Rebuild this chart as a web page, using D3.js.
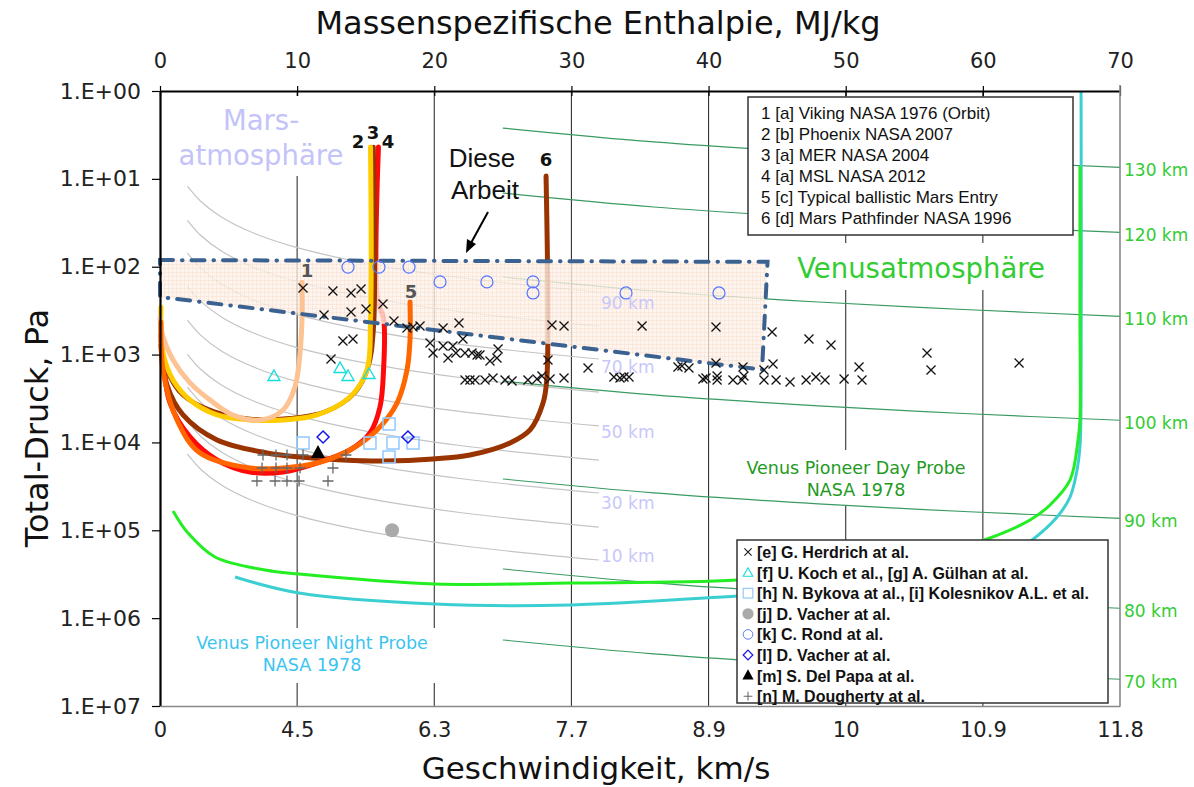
<!DOCTYPE html>
<html>
<head>
<meta charset="utf-8">
<script src="https://cdn.jsdelivr.net/npm/d3@7"></script>
<style>
  body { margin: 0; background: #fff; }
</style>
</head>
<body>
<div id="chart"></div>
<script>
// ---- axes ----
var enthalpyTicks = [0, 10, 20, 30, 40, 50, 60, 70];
var velocityLabels = ["0", "4.5", "6.3", "7.7", "8.9", "10", "10.9", "11.8"];
var pressureTicks = [1, 10, 100, 1e3, 1e4, 1e5, 1e6, 1e7];
var pressureLabels = ["1.E+00", "1.E+01", "1.E+02", "1.E+03", "1.E+04", "1.E+05", "1.E+06", "1.E+07"];

// ---- Mars altitude isolines (grey), pressure at enthalpy samples ----
var marsH = [2, 3, 4.5, 7, 10, 15, 22, 32];
var marsAltitudes = ["90 km", "80 km", "70 km", "60 km", "50 km", "40 km", "30 km", "20 km", "10 km"];
var marsIso = [
  [12.1, 18.2, 27.3, 42.5, 60.7, 91, 134, 194],
  [29.6, 44.4, 66.6, 104, 148, 222, 326, 474],
  [70.2, 105, 158, 246, 351, 527, 772, 1123],
  [167, 250, 375, 584, 834, 1251, 1835, 2669],
  [406, 609, 914, 1421, 2030, 3045, 4466, 6496],
  [992, 1488, 2232, 3472, 4960, 7440, 10910, 15870],
  [2354, 3531, 5297, 8239, 11770, 17660, 25890, 37660],
  [5740, 8610, 12920, 20090, 28700, 43050, 63140, 91840],
  [13630, 20440, 30660, 47700, 68140, 102200, 149900, 218000]
];

// ---- Venus altitude isolines (green) ----
var venusH = [25, 36, 48, 59, 70];
var venusAltitudes = ["130 km", "120 km", "110 km", "100 km", "90 km", "80 km", "70 km"];
var venusIso = [
  [2.64, 3.80, 5.06, 6.22, 7.39],
  [14.5, 20.9, 27.8, 34.2, 40.6],
  [131, 189, 252, 309, 367],
  [2000, 2876, 3835, 4714, 5593],
  [26080, 37550, 50060, 61540, 73010],
  [275800, 397100, 529400, 650800, 772100],
  [1773000, 2552000, 3403000, 4183000, 4963000]
];

// ---- entry trajectories [enthalpy MJ/kg, total pressure Pa] ----
var viking = [[0, 384], [0.22, 631], [0.95, 1150], [2.19, 2100], [3.65, 3290], [5.32, 4870], [7.29, 5550], [8.97, 4270], [9.84, 2340], [10.21, 960], [10.35, 404], [10.35, 150]];
var phoenix = [[0.07, 287], [0.22, 960], [0.95, 1945], [2.19, 3290], [4.16, 4870], [6.56, 5550], [8.97, 5550], [11.45, 4870], [13.85, 3040], [15.09, 1500], [15.35, 404], [15.35, 4.34]];
var mer = [[0.07, 700], [0.51, 1500], [1.68, 2900], [4.01, 4500], [6.56, 5400], [9.48, 5300], [12.03, 4500], [14.22, 2700], [15.17, 1400], [15.57, 525], [15.57, 4.34]];
var msl = [[0.07, 598], [0.22, 1150], [0.73, 3560], [2.19, 8670], [4.16, 15850], [6.56, 21700], [8.97, 21700], [11.45, 17140], [13.85, 12190], [15.31, 7810], [16.04, 3950], [16.3, 1500], [16.3, 384], [15.86, 239], [15.93, 4.34]];
var ballistic = [[0.07, 426], [0.22, 1500], [1.24, 5550], [2.92, 13190], [6.56, 19540], [8.97, 19540], [11.45, 17140], [13.85, 12190], [15.82, 7210], [17.28, 3560], [18.01, 1500], [18.23, 682], [18.23, 252]];
var pathfinder = [[0.07, 780], [0.51, 2220], [1.68, 4870], [4.16, 9380], [7.8, 13190], [10.21, 14650], [13.34, 15850], [16.26, 16270], [19.91, 15440], [22.6, 13900], [25.52, 10150], [26.98, 7210], [27.93, 3560], [28.2, 1950], [28.15, 9.3]];

var venusDay = [[0.95, 60260], [2.04, 107400], [4.01, 201400], [7.66, 283200], [10.14, 314300], [20.05, 408300], [29.97, 398000], [42.15, 368000], [53.96, 248300], [60.52, 122400], [63.44, 76340], [64.9, 51510], [66.36, 26760], [66.94, 9381], [67.08, 5554], [67.08, 404], [67.08, 7.14]];
var venusNight = [[5.47, 340400], [10.14, 517200], [20.05, 690600], [29.97, 708500], [42.15, 559600], [53.96, 419600], [61.25, 217800], [63.59, 128900], [65.41, 70560], [66.36, 41800], [66.87, 20590], [67.08, 11270], [67.16, 3289], [67.16, 1]];

// "Diese Arbeit" region corners
var thisWork = [[0, 84], [44.3, 88], [43.9, 1480], [0, 221]];

// ---- ground test facilities ----
var herdrich = [[10.43, 175], [12.61, 189], [13.93, 199], [14.66, 179], [11.96, 354], [13.93, 328], [15.02, 303], [16.26, 266],
  [17.06, 415], [18.45, 486], [18.96, 473], [20.64, 498], [21.8, 437], [13.34, 701], [14.07, 665], [12.47, 1123],
  [18.01, 498], [19.69, 738], [19.91, 960], [20.64, 799], [21.0, 1094], [21.36, 799], [21.58, 960], [22.09, 665],
  [22.24, 960], [22.75, 960], [23.12, 1011], [22.24, 1946], [22.6, 1946], [22.97, 1946], [23.33, 1011], [24.65, 864],
  [24.06, 1183], [24.57, 1094], [23.7, 1946], [24.28, 1848], [25.16, 1946], [25.67, 1998], [26.83, 1946], [27.49, 1897],
  [27.85, 1753], [28.44, 1897], [29.46, 1848], [28.29, 1153], [28.58, 461], [29.46, 473], [35.15, 473], [40.54, 486],
  [31.21, 1421], [33.1, 1799], [33.54, 1848], [33.83, 1799], [34.2, 1799], [37.77, 1385], [38.06, 1349], [38.57, 1421],
  [39.59, 1897], [39.81, 1848], [40.62, 1753], [40.62, 1946], [40.54, 1247], [41.78, 1946], [42.44, 1946], [42.58, 1753],
  [42.51, 1385], [44.04, 1498], [44.04, 1946], [44.92, 1946], [45.94, 2052], [44.7, 1280], [44.63, 553], [47.32, 665],
  [48.93, 778], [47.11, 1946], [47.83, 1799], [48.49, 1946], [49.88, 1897], [50.97, 1385], [51.19, 1946], [55.93, 960],
  [56.22, 1498], [62.64, 1247]];
var kochGuelhan = [[8.31, 1753], [13.13, 1421], [13.71, 1753], [15.24, 1663]];
var bykovaKolesnikov = [[10.43, 10150], [16.7, 6170], [15.31, 10150], [16.99, 10150], [16.7, 14650], [18.45, 10150]];
var vacherDot = [[16.92, 100000]];
var rond = [[13.71, 101], [15.97, 101], [18.16, 101], [20.42, 149], [23.84, 149], [27.2, 149], [27.2, 199], [33.98, 199], [40.76, 199]];
var vacherDiamond = [[11.89, 8670], [18.08, 8670]];
var delPapa = [[11.52, 13190]];
var dougherty = [[7.51, 13900], [8.46, 13900], [9.26, 13900], [10.43, 13900], [13.56, 13900],
  [7.44, 19540], [8.46, 19540], [9.26, 19540], [10.21, 19540], [12.61, 19540],
  [7.07, 27480], [8.39, 27480], [9.26, 27480], [10.14, 27480], [12.25, 27480]];

var missionLegend = ["1 [a] Viking NASA 1976 (Orbit)", "2 [b] Phoenix NASA 2007", "3 [a] MER NASA 2004",
  "4 [a] MSL NASA 2012", "5 [c] Typical ballistic Mars Entry", "6 [d] Mars Pathfinder NASA 1996"];
var refSymbols = ["cross", "triangle", "square", "dot", "circle", "diamond", "filledTriangle", "plus"];
var refLabels = ["[e] G. Herdrich at al.", "[f] U. Koch et al., [g] A. Gülhan at al.",
  "[h] N. Bykova at al., [i] Kolesnikov A.L. et al.", "[j] D. Vacher at al.", "[k] C. Rond at al.",
  "[l] D. Vacher at al.", "[m] S. Del Papa at al.", "[n] M. Dougherty at al."];

// ---------------------------------------------------------------
var width = 1194, height = 787;
var plotLeft = 160, plotRight = 1120, plotTop = 91, plotBottom = 706;

var svg = d3.select("#chart").append("svg")
  .attr("width", width).attr("height", height)
  .style("font-family", "'DejaVu Sans', Verdana, sans-serif");

var x = d3.scaleLinear().domain([0, 70]).range([plotLeft, plotRight]);
var y = d3.scaleLog().domain([1, 1e7]).range([plotTop, plotBottom]);

var defs = svg.append("defs");
var pat = defs.append("pattern").attr("id", "grid").attr("width", 4).attr("height", 4)
  .attr("patternUnits", "userSpaceOnUse");
pat.append("rect").attr("width", 4).attr("height", 4).attr("fill", "#fef3ec");
pat.append("path").attr("d", "M0,0.5H4M0.5,0V4").attr("stroke", "#f8dccb").attr("stroke-width", 0.7);

var line = d3.line().x(d => x(d[0])).y(d => y(d[1])).curve(d3.curveCatmullRom.alpha(0.5));

// vertical grid
svg.append("g").selectAll("line")
  .data(enthalpyTicks.slice(1, -1))
  .enter().append("line")
  .attr("x1", d => x(d)).attr("x2", d => x(d))
  .attr("y1", plotTop).attr("y2", plotBottom)
  .attr("stroke", "#333").attr("stroke-width", 1.1);

// white label backgrounds
var boxes = [[178, 96, 170, 80], [788, 243, 272, 47], [735, 450, 240, 55], [188, 628, 250, 55]];
svg.append("g").selectAll("rect").data(boxes).enter().append("rect")
  .attr("x", d => d[0]).attr("y", d => d[1]).attr("width", d => d[2]).attr("height", d => d[3])
  .attr("fill", "#fff");

// Mars isolines
svg.append("g").selectAll("path").data(marsIso).enter().append("path")
  .attr("d", d => line(d.map((p, i) => [marsH[i], p])))
  .attr("fill", "none").attr("stroke", "#c4c4c4").attr("stroke-width", 1.2);

// Venus isolines
svg.append("g").selectAll("path").data(venusIso).enter().append("path")
  .attr("d", d => line(d.map((p, i) => [venusH[i], p])))
  .attr("fill", "none").attr("stroke", "#3a9a62").attr("stroke-width", 1.2);

// Venus probes
svg.append("path").attr("d", line(venusNight)).attr("fill", "none")
  .attr("stroke", "#3ccfd2").attr("stroke-width", 3);
svg.append("path").attr("d", line(venusDay)).attr("fill", "none")
  .attr("stroke", "#22ee22").attr("stroke-width", 3);

function traj(data, color, w) {
  svg.append("path").attr("d", line(data)).attr("fill", "none")
    .attr("stroke", color).attr("stroke-width", w || 5)
    .attr("stroke-linecap", "round").attr("stroke-linejoin", "round");
}

traj(pathfinder, "#993300");
traj(msl, "#ff0a0a");

// region of this work
var regionLine = d3.line().x(d => x(d[0])).y(d => y(d[1]));
svg.append("path").attr("d", regionLine(thisWork) + "Z")
  .attr("fill", "url(#grid)").attr("opacity", 0.8);

traj(mer, "#993300", 4.5);
traj(phoenix, "#ffcc00");
traj(viking, "#fdc393");
traj(ballistic, "#ff6600");

svg.append("path").attr("d", regionLine(thisWork) + "Z")
  .attr("fill", "none").attr("stroke", "#3a6190").attr("stroke-width", 4)
  .attr("stroke-dasharray", "13,9,0.5,9").attr("stroke-linecap", "round");

// marker shapes
function symbol(g, type, cx, cy, k) {
  k = k || 1;
  var s = g.append("g").attr("transform", "translate(" + cx + "," + cy + ") scale(" + k + ")");
  if (type === "cross") {
    s.append("path").attr("d", "M-4.5,-4.5L4.5,4.5M-4.5,4.5L4.5,-4.5")
      .attr("stroke", "#111").attr("stroke-width", 1.3).attr("fill", "none");
  } else if (type === "triangle") {
    s.append("path").attr("d", "M0,-6L6,4.5L-6,4.5Z")
      .attr("stroke", "#19dede").attr("stroke-width", 1.4).attr("fill", "none");
  } else if (type === "square") {
    s.append("rect").attr("x", -6).attr("y", -6).attr("width", 12).attr("height", 12)
      .attr("stroke", "#99ccff").attr("stroke-width", 1.6).attr("fill", "none");
  } else if (type === "dot") {
    s.append("circle").attr("r", 7).attr("fill", "#aaaaaa");
  } else if (type === "circle") {
    s.append("circle").attr("r", 6).attr("fill", "none")
      .attr("stroke", "#5577ff").attr("stroke-width", 1.2);
  } else if (type === "diamond") {
    s.append("path").attr("d", "M0,-6L6,0L0,6L-6,0Z")
      .attr("stroke", "#1515ee").attr("stroke-width", 1.5).attr("fill", "none");
  } else if (type === "filledTriangle") {
    s.append("path").attr("d", "M0,-8L7,5L-7,5Z").attr("fill", "#000");
  } else if (type === "plus") {
    s.append("path").attr("d", "M-5.5,0H5.5M0,-5.5V5.5")
      .attr("stroke", "#666").attr("stroke-width", 1.3).attr("fill", "none");
  }
}

var markerSeries = [herdrich, kochGuelhan, bykovaKolesnikov, vacherDot, rond, vacherDiamond, delPapa, dougherty];
var mg = svg.append("g");
markerSeries.forEach(function (series, i) {
  series.forEach(function (d) { symbol(mg, refSymbols[i], x(d[0]), y(d[1])); });
});

// legends
var leg1 = svg.append("g").style("font-family", "'Liberation Sans', Arial, sans-serif");
leg1.append("rect").attr("x", 748).attr("y", 97).attr("width", 325).attr("height", 138)
  .attr("fill", "#fff").attr("stroke", "#333").attr("stroke-width", 1.5);
leg1.selectAll("text").data(missionLegend).enter().append("text")
  .attr("x", 761).attr("y", (d, i) => 119 + i * 21)
  .attr("font-size", 17).attr("fill", "#111").text(d => d);

var leg2 = svg.append("g").style("font-family", "'Liberation Sans', Arial, sans-serif");
leg2.append("rect").attr("x", 737).attr("y", 540).attr("width", 371).attr("height", 163)
  .attr("fill", "#fff").attr("stroke", "#333").attr("stroke-width", 1.5);
refLabels.forEach(function (t, i) {
  var yy = 552 + i * 20.6;
  symbol(leg2, refSymbols[i], 748, yy, 0.8);
  leg2.append("text").attr("x", 757).attr("y", yy + 6)
    .attr("font-size", 16).attr("font-weight", "bold").attr("fill", "#111").text(t);
});

// axes
var gl = svg.append("g").attr("transform", "translate(" + plotLeft + ",0)")
  .call(d3.axisLeft(y).tickValues(pressureTicks).tickFormat((d, i) => pressureLabels[i])
    .tickSize(8).tickSizeOuter(0).tickPadding(11));
gl.select(".domain").attr("stroke", "#000").attr("stroke-width", 2.2);
gl.selectAll("line").attr("stroke", "#000").attr("stroke-width", 1.2);
gl.selectAll("text").attr("font-size", 22).attr("font-family", "'DejaVu Sans', sans-serif").attr("fill", "#222");

var gt = svg.append("g").attr("transform", "translate(0," + plotTop + ")")
  .call(d3.axisTop(x).tickValues(enthalpyTicks).tickSize(5).tickSizeOuter(0).tickPadding(18));
gt.select(".domain").attr("stroke", "#000").attr("stroke-width", 2.2);
gt.selectAll(".tick line").attr("y2", -5).attr("y1", 5).attr("stroke", "#000").attr("stroke-width", 1.2);
gt.selectAll("text").attr("font-size", 21).attr("font-family", "'DejaVu Sans', sans-serif").attr("fill", "#222");

var gb = svg.append("g").attr("transform", "translate(0," + plotBottom + ")")
  .call(d3.axisBottom(x).tickValues(enthalpyTicks).tickFormat((d, i) => velocityLabels[i])
    .tickSize(0).tickSizeOuter(0).tickPadding(16));
gb.select(".domain").attr("stroke", "#888").attr("stroke-width", 1.6);
gb.selectAll("text").attr("font-size", 21).attr("font-family", "'DejaVu Sans', sans-serif").attr("fill", "#222");

svg.append("line").attr("x1", plotRight).attr("x2", plotRight).attr("y1", plotTop - 6).attr("y2", plotBottom)
  .attr("stroke", "#888").attr("stroke-width", 1.6);

// axis titles
svg.append("text").attr("x", 598).attr("y", 34).attr("text-anchor", "middle")
  .attr("font-size", 32).attr("fill", "#111").text("Massenspezifische Enthalpie, MJ/kg");
svg.append("text").attr("x", 596).attr("y", 779).attr("text-anchor", "middle")
  .attr("font-size", 31).attr("fill", "#111").text("Geschwindigkeit, km/s");
svg.append("text").attr("transform", "translate(48,428) rotate(-90)").attr("text-anchor", "middle")
  .attr("font-size", 32).attr("fill", "#111").text("Total-Druck, Pa");

// isoline labels
var marsLabelY = [303, 367, 432, 503, 556];
[0, 2, 4, 6, 8].forEach(function (k, i) {
  svg.append("text").attr("x", 601).attr("y", marsLabelY[i] + 6)
    .attr("font-size", 17).attr("fill", "#c8c8f8").text(marsAltitudes[k]);
});
venusIso.forEach(function (d, i) {
  svg.append("text").attr("x", 1124).attr("y", y(d[d.length - 1]) + 9)
    .attr("font-size", 17).attr("fill", "#33cc33").text(venusAltitudes[i]);
});

// annotations
svg.append("text").attr("x", 261).attr("y", 130).attr("text-anchor", "middle")
  .attr("font-size", 27.5).attr("fill", "#c3c3fa").text("Mars-");
svg.append("text").attr("x", 261).attr("y", 165).attr("text-anchor", "middle")
  .attr("font-size", 27.5).attr("fill", "#c3c3fa").text("atmosphäre");
svg.append("text").attr("x", 921).attr("y", 278).attr("text-anchor", "middle")
  .attr("font-size", 27.5).attr("fill", "#33cc33").text("Venusatmosphäre");

var da = svg.append("g").style("font-family", "'Liberation Sans', Arial, sans-serif")
  .attr("font-size", 26).attr("fill", "#111").attr("text-anchor", "middle");
da.append("text").attr("x", 482).attr("y", 167).text("Diese");
da.append("text").attr("x", 485).attr("y", 199).text("Arbeit");
svg.append("line").attr("x1", 488).attr("y1", 212).attr("x2", 471).attr("y2", 243)
  .attr("stroke", "#000").attr("stroke-width", 2);
svg.append("path").attr("d", "M466,253L467,239L476,244Z").attr("fill", "#000");

svg.append("text").attr("x", 856).attr("y", 474).attr("text-anchor", "middle")
  .attr("font-size", 17.5).attr("fill", "#1f9a1f").text("Venus Pioneer Day Probe");
svg.append("text").attr("x", 856).attr("y", 496).attr("text-anchor", "middle")
  .attr("font-size", 17.5).attr("fill", "#1f9a1f").text("NASA 1978");
svg.append("text").attr("x", 312).attr("y", 649).attr("text-anchor", "middle")
  .attr("font-size", 17.5).attr("fill", "#3cc4f0").text("Venus Pioneer Night Probe");
svg.append("text").attr("x", 312).attr("y", 671).attr("text-anchor", "middle")
  .attr("font-size", 17.5).attr("fill", "#3cc4f0").text("NASA 1978");

// trajectory numbers
var numLabels = [["1", 307, 277, "#555"], ["2", 358, 148, "#111"], ["3", 373, 139, "#111"],
  ["4", 388, 148, "#111"], ["5", 411, 298, "#555"], ["6", 546, 166, "#111"]];
svg.append("g").selectAll("text").data(numLabels).enter().append("text")
  .attr("x", d => d[1]).attr("y", d => d[2]).attr("text-anchor", "middle")
  .attr("font-size", 18).attr("font-weight", "bold").attr("fill", d => d[3]).text(d => d[0]);
</script>
</body>
</html>
